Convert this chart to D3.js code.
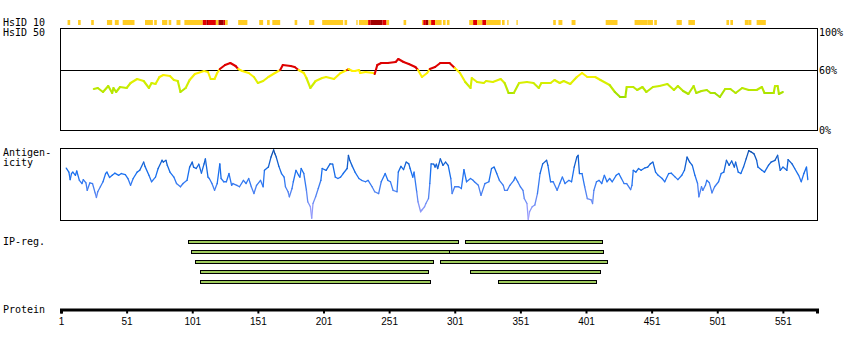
<!DOCTYPE html>
<html>
<head>
<meta charset="utf-8">
<script src="https://cdn.jsdelivr.net/npm/d3@7"></script>
<style>
  html, body { margin: 0; padding: 0; background: #fff; }
  svg { display: block; }
  .lbl { font-family: "DejaVu Sans Mono", monospace; font-size: 10px; fill: #000; }
  .axis .tick text { font-family: "Liberation Sans", Arial, sans-serif; font-size: 10px; fill: #000; }
</style>
</head>
<body>
<svg id="chart" width="850" height="350"></svg>
<script>
// ---- Protein length and residue ticks ----
const proteinLength = 577;
const residueTicks = [1, 51, 101, 151, 201, 251, 301, 351, 401, 451, 501, 551];

// ---- HsID 10: identity segments (start, end residue; level 0 = medium, 1 = high, 2 = very high) ----
const hs10Start = [6, 14, 24, 36, 42, 48, 65, 72, 78, 83, 89, 95, 109, 112, 113, 119, 121, 125, 126,
  136, 152, 158, 162, 179, 190, 200, 217, 226, 228, 235, 237, 246, 249, 262, 276, 277, 279, 281, 283,
  286, 292, 295, 312, 315, 318, 322, 325, 337, 341, 348, 376, 380, 390, 416, 438, 448, 453, 470, 479,
  508, 511, 522, 525, 531];
const hs10End = [7, 15, 25, 39, 44, 56, 70, 73, 81, 84, 91, 108, 111, 112, 118, 120, 124, 125, 127,
  142, 154, 159, 167, 180, 193, 215, 218, 226, 234, 236, 245, 248, 250, 263, 276, 278, 280, 282, 285,
  290, 293, 296, 314, 317, 321, 324, 335, 338, 341, 348, 377, 382, 392, 424, 447, 451, 454, 473, 483,
  509, 512, 524, 526, 537];
const hs10Level = [0, 0, 0, 0, 0, 0, 0, 0, 0, 0, 0, 0, 1, 2, 1, 0, 2, 1, 0,
  0, 0, 0, 0, 0, 0, 0, 0, 0, 0, 1, 2, 1, 0, 0, 0, 1, 2, 0, 1,
  0, 0, 0, 0, 1, 0, 1, 0, 0, 0, 0, 0, 0, 0, 0, 0, 0, 0, 0, 0,
  0, 0, 0, 0, 0];

// ---- HsID 50: identity (%) along the sequence ----
const hs50Pos = [26, 29, 33, 37, 40, 41, 43, 46, 51, 54,
  59, 64, 68, 70, 73, 76, 79, 84, 87, 90,
  92, 96, 99, 103, 110, 113, 115, 118, 120, 122,
  126, 130, 134, 136, 139, 144, 148, 151, 155, 159,
  164, 168, 170, 176, 179, 182, 186, 188, 191, 195,
  200, 203, 209, 214, 219, 220, 223, 225, 228, 229,
  233, 239, 240, 242, 245, 250, 256, 258, 262, 266,
  271, 273, 276, 280, 282, 286, 290, 297, 301, 305,
  309, 313, 314, 318, 323, 325, 330, 336, 339, 342,
  346, 350, 356, 361, 365, 367, 374, 377, 381, 384,
  389, 394, 398, 402, 408, 412, 419, 423, 427, 431,
  432, 437, 440, 444, 447, 452, 457, 463, 468, 471,
  475, 479, 483, 485, 489, 493, 496, 499, 503, 507,
  511, 515, 520, 525, 531, 535, 537, 544, 545, 547,
  548, 551];
const hs50Val = [41, 42, 38, 44, 37, 42, 38, 43, 42, 47,
  51, 49, 42, 47, 46, 53, 55, 54, 50, 49,
  38, 42, 50, 56, 59, 58, 51, 51, 57, 61,
  65, 67, 64, 61, 59, 57, 53, 47, 49, 53,
  57, 60, 65, 64, 63, 60, 57, 52, 42, 49,
  52, 53, 51, 57, 60, 61, 59, 59, 60, 57,
  58, 57, 56, 65, 67, 67, 68, 71, 68, 66,
  63, 60, 53, 57, 61, 63, 67, 67, 62, 57,
  48, 42, 52, 48, 47, 49, 48, 51, 47, 37,
  37, 47, 48, 47, 42, 47, 47, 50, 47, 49,
  46, 53, 57, 53, 53, 50, 45, 38, 33, 33,
  43, 43, 40, 43, 38, 43, 44, 46, 40, 44,
  39, 36, 44, 37, 39, 40, 37, 37, 33, 41,
  41, 37, 42, 40, 40, 43, 37, 37, 44, 44,
  36, 38];
const identityTicks = ["100%", "60%", "0%"];
const identityTickVals = [100, 60, 0];
const identityThreshold = 60;

// ---- Antigenicity score along the sequence ----
const antPos = [5, 7, 8, 9, 10, 12, 13, 15, 17, 18,
  20, 21, 23, 25, 27, 28, 29, 31, 33, 35,
  36, 38, 40, 42, 45, 47, 50, 52, 54, 56,
  59, 61, 64, 65, 68, 70, 73, 75, 78, 79,
  81, 82, 84, 87, 89, 92, 94, 97, 99, 101,
  102, 104, 106, 108, 110, 111, 113, 114, 116, 118,
  120, 122, 123, 125, 127, 129, 131, 132, 135, 137,
  140, 142, 144, 146, 148, 150, 153, 155, 156, 159,
  161, 163, 164, 165, 167, 169, 171, 172, 174, 175,
  177, 178, 180, 182, 183, 184, 186, 188, 189, 191,
  192, 193, 195, 197, 199, 200, 203, 206, 208, 210,
  212, 214, 216, 219, 220, 221, 223, 225, 228, 230,
  233, 235, 238, 240, 243, 245, 248, 250, 252, 254,
  257, 258, 260, 262, 264, 266, 267, 269, 270, 272,
  273, 275, 276, 278, 279, 281, 282, 283, 285, 286,
  287, 288, 290, 292, 294, 296, 298, 299, 301, 304,
  306, 308, 310, 313, 315, 316, 319, 321, 324, 327,
  329, 331, 333, 335, 338, 339, 341, 343, 346, 347,
  349, 351, 353, 354, 356, 357, 358, 360, 362, 364,
  366, 368, 371, 372, 374, 376, 379, 381, 383, 385,
  388, 390, 392, 394, 395, 396, 398, 400, 402, 405,
  406, 407, 409, 411, 413, 415, 417, 419, 421, 424,
  426, 428, 430, 432, 435, 436, 437, 439, 441, 443,
  446, 448, 450, 452, 454, 456, 459, 461, 464, 466,
  469, 471, 474, 476, 478, 480, 482, 484, 486, 487,
  489, 490, 492, 493, 495, 497, 499, 502, 504, 506,
  508, 510, 512, 514, 515, 517, 519, 521, 523, 525,
  527, 529, 531, 532, 535, 537, 540, 542, 545, 547,
  549, 551, 554, 555, 558, 560, 563, 565, 567, 569,
  570];
const antVal = [0.45, 0.34, 0.13, 0.30, 0.34, 0.25, 0.37, 0.11, 0.02, 0.13,
  0.04, -0.17, 0.04, 0.02, -0.24, -0.37, -0.21, -0.07, 0.07, 0.30,
  0.34, 0.19, 0.25, 0.31, 0.25, 0.30, 0.27, 0.16, -0.03, 0.16,
  0.34, 0.39, 0.62, 0.50, 0.25, 0.07, 0.20, 0.44, 0.67, 0.62,
  0.67, 0.53, 0.34, 0.20, 0.02, -0.07, 0.02, 0.11, 0.48, 0.62,
  0.48, 0.44, 0.56, 0.31, 0.57, 0.71, 0.20, 0.16, 0.02, -0.17,
  0.02, 0.57, 0.16, 0.07, 0.07, 0.30, -0.03, 0.02, -0.03, -0.07,
  0.11, 0.02, 0.16, -0.07, -0.26, -0.03, 0.11, -0.07, 0.39, 0.48,
  0.76, 0.96, 0.85, 0.76, 0.50, 0.30, 0.20, -0.07, -0.21, -0.35,
  -0.12, 0.07, 0.39, 0.25, 0.20, 0.44, 0.30, -0.17, -0.49, -0.63,
  -0.95, -0.54, -0.35, -0.12, 0.11, 0.44, 0.39, 0.57, 0.56, 0.20,
  0.16, 0.20, 0.30, 0.44, 0.81, 0.67, 0.50, 0.34, 0.16, 0.11,
  0.07, 0.11, -0.07, -0.21, -0.26, 0.07, 0.30, 0.11, 0.07, -0.17,
  -0.21, 0.34, 0.50, 0.41, 0.62, 0.57, 0.44, 0.20, 0.34, -0.21,
  -0.49, -0.77, -0.72, -0.63, -0.54, -0.40, 0.02, 0.57, 0.56, 0.48,
  0.56, 0.44, 0.71, 0.53, 0.62, 0.53, 0.16, -0.26, -0.07, -0.07,
  -0.12, 0.41, 0.07, 0.16, 0.11, 0.07, -0.03, -0.31, 0.02, 0.07,
  0.44, 0.48, 0.30, 0.11, -0.03, -0.17, -0.17, -0.03, 0.11, 0.20,
  0.07, -0.07, -0.17, -0.40, -0.54, -0.98, -0.77, -0.63, -0.58, -0.26,
  0.30, 0.57, 0.67, 0.53, 0.07, 0.07, -0.17, 0.02, 0.20, 0.02,
  0.11, 0.07, 0.48, 0.76, 0.81, 0.30, 0.30, -0.07, -0.40, -0.44,
  -0.54, -0.17, 0.07, 0.11, 0.02, 0.25, 0.07, 0.16, 0.07, 0.25,
  0.30, 0.16, 0.02, 0.02, -0.15, -0.03, 0.39, 0.34, 0.44, 0.39,
  0.46, 0.48, 0.57, 0.62, 0.34, 0.25, 0.16, 0.07, 0.30, 0.31,
  0.20, 0.13, 0.25, 0.39, 0.76, 0.62, 0.53, 0.25, 0.02, -0.35,
  -0.07, -0.17, -0.03, 0.11, 0.04, -0.24, -0.07, 0.07, 0.30, 0.34,
  0.67, 0.53, 0.65, 0.48, 0.62, 0.34, 0.30, 0.48, 0.71, 0.94,
  0.90, 0.85, 0.67, 0.48, 0.39, 0.34, 0.53, 0.62, 0.67, 0.81,
  0.39, 0.48, 0.39, 0.69, 0.57, 0.44, 0.25, 0.07, 0.30, 0.48,
  0.13];

// ---- IP regions (row, start, end) ----
const ipRow = [0, 0, 1, 1, 2, 2, 3, 3, 4, 4];
const ipStart = [98, 309, 100, 297, 103, 290, 107, 313, 107, 334];
const ipEnd = [304, 413, 297, 414, 284, 417, 281, 412, 282, 409];

// ---- Track labels ----
const trackLabels = [
  { text: "HsID 10", y: 26 },
  { text: "HsID 50", y: 36 },
  { text: "Antigen-", y: 155.5 },
  { text: "icity", y: 165.5 },
  { text: "IP-reg.", y: 245 },
  { text: "Protein", y: 312.5 }
];

// ================= drawing =================
const svg = d3.select("#chart");
const x = d3.scaleLinear().domain([1, proteinLength]).range([61, 817]);

// labels on the left
svg.selectAll("text.track").data(trackLabels).join("text")
  .attr("class", "lbl track")
  .attr("x", 3).attr("y", d => d.y)
  .text(d => d.text);

// --- HsID 10 strip ---
const hs10Colors = ["#ffcc22", "#e00000", "#a00000"];
const hs10 = hs10Start.map((s, i) => ({ s, e: hs10End[i], lv: hs10Level[i] }));
svg.append("g").selectAll("rect").data(hs10).join("rect")
  .attr("x", d => x(d.s))
  .attr("width", d => x(d.e + 1) - x(d.s))
  .attr("y", 20).attr("height", 5)
  .attr("fill", d => hs10Colors[d.lv]);

// --- HsID 50 panel ---
const yId = d3.scaleLinear().domain([0, 100]).range([130, 30]);
svg.append("rect")
  .attr("x", 60.5).attr("y", 28.5).attr("width", 757).attr("height", 102)
  .attr("fill", "none").attr("stroke", "#000").attr("stroke-width", 1);
svg.append("line")
  .attr("x1", 60.5).attr("x2", 817.5)
  .attr("y1", Math.round(yId(identityThreshold)) + 0.5)
  .attr("y2", Math.round(yId(identityThreshold)) + 0.5)
  .attr("stroke", "#000").attr("stroke-width", 1);

const idColor = d3.scaleLinear().domain([33, 45, 56]).range(["#99dd00", "#ccee00", "#fff200"]).clamp(true);
const hs50 = hs50Pos.map((p, i) => ({ p, v: hs50Val[i] }));
const hs50Segs = d3.pairs(hs50);
svg.append("g").selectAll("line").data(hs50Segs).join("line")
  .attr("x1", d => x(d[0].p)).attr("y1", d => yId(d[0].v))
  .attr("x2", d => x(d[1].p)).attr("y2", d => yId(d[1].v))
  .attr("stroke", d => {
    const m = (d[0].v + d[1].v) / 2;
    return m > identityThreshold ? "#dd0000" : idColor(m);
  })
  .attr("stroke-width", 2.1)
  .attr("stroke-linecap", "round");

svg.selectAll("text.idtick").data(identityTicks).join("text")
  .attr("class", "lbl idtick")
  .attr("x", 819)
  .attr("y", (d, i) => yId(identityTickVals[i]) + (i === 0 ? 6 : 4))
  .text(d => d);

// --- Antigenicity panel ---
const yAnt = d3.scaleLinear().domain([-1, 1]).range([220, 148.5]);
svg.append("rect")
  .attr("x", 60.5).attr("y", 148.5).attr("width", 757).attr("height", 72)
  .attr("fill", "none").attr("stroke", "#000").attr("stroke-width", 1);
const antColor = d3.scaleLinear()
  .domain([-1, -0.3, 0.3, 1])
  .range(["#b0a6ff", "#5a86f2", "#1870f0", "#0a4aa6"]).clamp(true);
const ant = antPos.map((p, i) => ({ p, v: antVal[i] }));
svg.append("g").selectAll("line").data(d3.pairs(ant)).join("line")
  .attr("x1", d => x(d[0].p)).attr("y1", d => yAnt(d[0].v))
  .attr("x2", d => x(d[1].p)).attr("y2", d => yAnt(d[1].v))
  .attr("stroke", d => antColor((d[0].v + d[1].v) / 2))
  .attr("stroke-width", 1.3)
  .attr("stroke-linecap", "round");

// --- IP regions ---
const rowY = d3.scalePoint().domain([0, 1, 2, 3, 4]).range([242, 282]);
const ip = ipStart.map((s, i) => ({ s, e: ipEnd[i], r: ipRow[i] }));
svg.append("g").selectAll("rect").data(ip).join("rect")
  .attr("x", d => Math.round(x(d.s)) + 0.5)
  .attr("width", d => Math.round(x(d.e) - x(d.s)))
  .attr("y", d => rowY(d.r) - 1.5)
  .attr("height", 3)
  .attr("fill", "#9fcb5e")
  .attr("stroke", "#000").attr("stroke-width", 1);

// --- Protein axis ---
const axis = d3.axisBottom(x)
  .tickValues(residueTicks)
  .tickFormat(d3.format("d"))
  .tickSize(4).tickSizeOuter(4).tickPadding(4);
const gAxis = svg.append("g").attr("class", "axis")
  .attr("transform", "translate(0,309.5)")
  .call(axis);
gAxis.select(".domain").attr("stroke", "#000").attr("stroke-width", 3);
gAxis.selectAll(".tick line").attr("stroke", "#000").attr("stroke-width", 2);
</script>
</body>
</html>
